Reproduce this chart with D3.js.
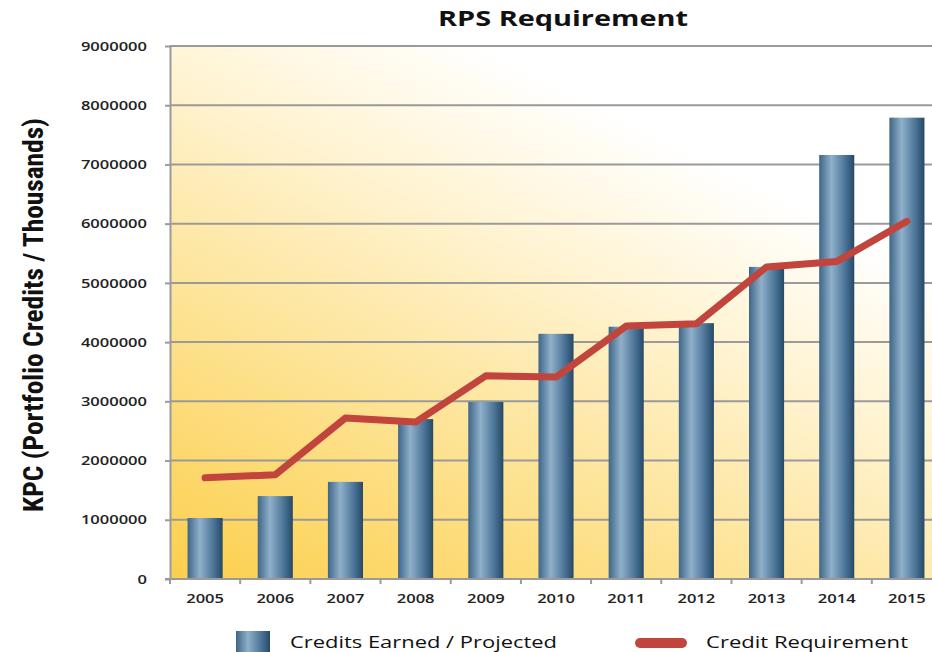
<!DOCTYPE html>
<html>
<head>
<meta charset="utf-8">
<script src="https://cdn.jsdelivr.net/npm/d3@7"></script>
<style>
  body { margin: 0; background: #fff; }
  svg { display: block; font-family: "Open Sans", "Noto Sans", sans-serif; }
</style>
</head>
<body>
<div id="chart"></div>
<script>
var years = ["2005","2006","2007","2008","2009","2010","2011","2012","2013","2014","2015"];
var creditsEarned = [1030000,1400000,1640000,2700000,2990000,4140000,4260000,4320000,5270000,7160000,7790000];
var creditRequirement = [1710000,1760000,2720000,2650000,3430000,3410000,4270000,4310000,5270000,5360000,6040000];
var yTicks = [0,1000000,2000000,3000000,4000000,5000000,6000000,7000000,8000000,9000000];

var width = 932, height = 652;
var plotLeft = 170, plotRight = 942, plotTop = 46, plotBottom = 579;
var tickFont = "'Open Sans', 'Noto Sans', sans-serif";
// the picture is a little wider than the fonts, so widen text a bit
var stretch = 1.27;

var svg = d3.select("#chart").append("svg")
  .attr("width", width)
  .attr("height", height);

var defs = svg.append("defs");

var bg = defs.append("linearGradient").attr("id", "bgGrad")
  .attr("x1", "0%").attr("y1", "100%").attr("x2", "72%").attr("y2", "0%");
bg.append("stop").attr("offset", "0%").attr("stop-color", "#fccf4c");
bg.append("stop").attr("offset", "30%").attr("stop-color", "#fde08a");
bg.append("stop").attr("offset", "62%").attr("stop-color", "#fff3d0");
bg.append("stop").attr("offset", "85%").attr("stop-color", "#ffffff");

var barGrad = defs.append("linearGradient").attr("id", "barGrad")
  .attr("x1", "0%").attr("y1", "0%").attr("x2", "100%").attr("y2", "0%");
barGrad.append("stop").attr("offset", "0%").attr("stop-color", "#3e6688");
barGrad.append("stop").attr("offset", "35%").attr("stop-color", "#8fb0ca");
barGrad.append("stop").attr("offset", "75%").attr("stop-color", "#4a7396");
barGrad.append("stop").attr("offset", "100%").attr("stop-color", "#264866");

var x = d3.scaleBand().domain(years).range([plotLeft, plotRight]).paddingInner(0.5).paddingOuter(0.25);
var y = d3.scaleLinear().domain([0, 9000000]).range([plotBottom, plotTop]);

function widen(sel) {
  sel.each(function() {
    var w = this.getComputedTextLength();
    d3.select(this).attr("textLength", w * stretch).attr("lengthAdjust", "spacingAndGlyphs");
  });
}

// plot background
svg.append("rect")
  .attr("x", plotLeft).attr("y", plotTop)
  .attr("width", plotRight - plotLeft).attr("height", plotBottom - plotTop)
  .attr("fill", "url(#bgGrad)");

// gridlines
svg.append("g").selectAll("line")
  .data(yTicks.slice(1))
  .enter().append("line")
  .attr("x1", plotLeft).attr("x2", plotRight)
  .attr("y1", function(d){ return y(d); })
  .attr("y2", function(d){ return y(d); })
  .style("stroke", "#9a9a9a")
  .style("stroke-width", "2px");

// y axis
var yAxis = svg.append("g")
  .attr("transform", "translate(" + plotLeft + ",0)")
  .call(d3.axisLeft(y).tickValues(yTicks).tickSize(5).tickSizeOuter(0).tickPadding(18).tickFormat(d3.format("d")));
yAxis.select(".domain").style("stroke", "#9a9a9a").style("stroke-width", "2px");
yAxis.selectAll(".tick line").style("stroke", "#9a9a9a").style("stroke-width", "2px");
yAxis.selectAll("text")
  .style("font-family", tickFont)
  .style("font-size", "13px").style("font-weight", "600").style("fill", "#222")
  .call(widen);

// bars
svg.append("g").selectAll(".bar")
  .data(years)
  .enter().append("rect")
  .attr("class", "bar")
  .attr("x", function(d){ return x(d); })
  .attr("y", function(d, i){ return y(creditsEarned[i]); })
  .attr("width", x.bandwidth())
  .attr("height", function(d, i){ return y(0) - y(creditsEarned[i]); })
  .attr("fill", "url(#barGrad)");

// x axis
var xAxis = svg.append("g")
  .attr("transform", "translate(0," + plotBottom + ")")
  .call(d3.axisBottom(x).tickSize(0).tickPadding(15));
xAxis.select(".domain").remove();
xAxis.selectAll("text")
  .style("font-family", tickFont)
  .style("font-size", "13px").style("font-weight", "600").style("fill", "#222")
  .call(widen);

svg.append("line")
  .attr("x1", plotLeft - 5).attr("x2", plotRight)
  .attr("y1", plotBottom).attr("y2", plotBottom)
  .style("stroke", "#9a9a9a").style("stroke-width", "2px");

svg.append("g").selectAll("line")
  .data(years)
  .enter().append("line")
  .attr("x1", function(d){ return x(d) - x.step() * x.paddingInner() / 2; })
  .attr("x2", function(d){ return x(d) - x.step() * x.paddingInner() / 2; })
  .attr("y1", plotBottom).attr("y2", plotBottom + 5)
  .style("stroke", "#9a9a9a").style("stroke-width", "2px");

// requirement line
var line = d3.line()
  .x(function(d, i){ return x(years[i]) + x.bandwidth() / 2; })
  .y(function(d){ return y(d); });

svg.append("path")
  .datum(creditRequirement)
  .attr("d", line)
  .attr("fill", "none")
  .style("stroke", "#c1443d")
  .style("stroke-width", "7px")
  .style("stroke-linejoin", "round")
  .style("stroke-linecap", "round");

// title
svg.append("text")
  .attr("x", 563).attr("y", 26)
  .style("text-anchor", "middle")
  .style("font-size", "21px").style("font-weight", "700").style("fill", "#111")
  .text("RPS Requirement")
  .attr("textLength", 250).attr("lengthAdjust", "spacingAndGlyphs");

// y axis title
svg.append("text")
  .attr("transform", "translate(43," + 315 + ") rotate(-90)")
  .style("text-anchor", "middle")
  .style("font-family", "'Liberation Sans Narrow', 'Roboto Condensed', 'Liberation Sans', sans-serif")
  .style("font-size", "28px").style("font-weight", "700").style("fill", "#111")
  .attr("textLength", 394).attr("lengthAdjust", "spacingAndGlyphs")
  .text("KPC (Portfolio Credits / Thousands)");

// legend
svg.append("rect")
  .attr("x", 236).attr("y", 631).attr("width", 34).attr("height", 30)
  .attr("fill", "url(#barGrad)");
svg.append("text")
  .attr("x", 290).attr("y", 648)
  .style("font-size", "17px").style("fill", "#111")
  .text("Credits Earned / Projected")
  .attr("textLength", 267).attr("lengthAdjust", "spacingAndGlyphs");

svg.append("line")
  .attr("x1", 640).attr("x2", 682).attr("y1", 643).attr("y2", 643)
  .style("stroke", "#c1443d").style("stroke-width", "10px").style("stroke-linecap", "round");
svg.append("text")
  .attr("x", 706).attr("y", 648)
  .style("font-size", "17px").style("fill", "#111")
  .text("Credit Requirement")
  .attr("textLength", 202).attr("lengthAdjust", "spacingAndGlyphs");
</script>
</body>
</html>
